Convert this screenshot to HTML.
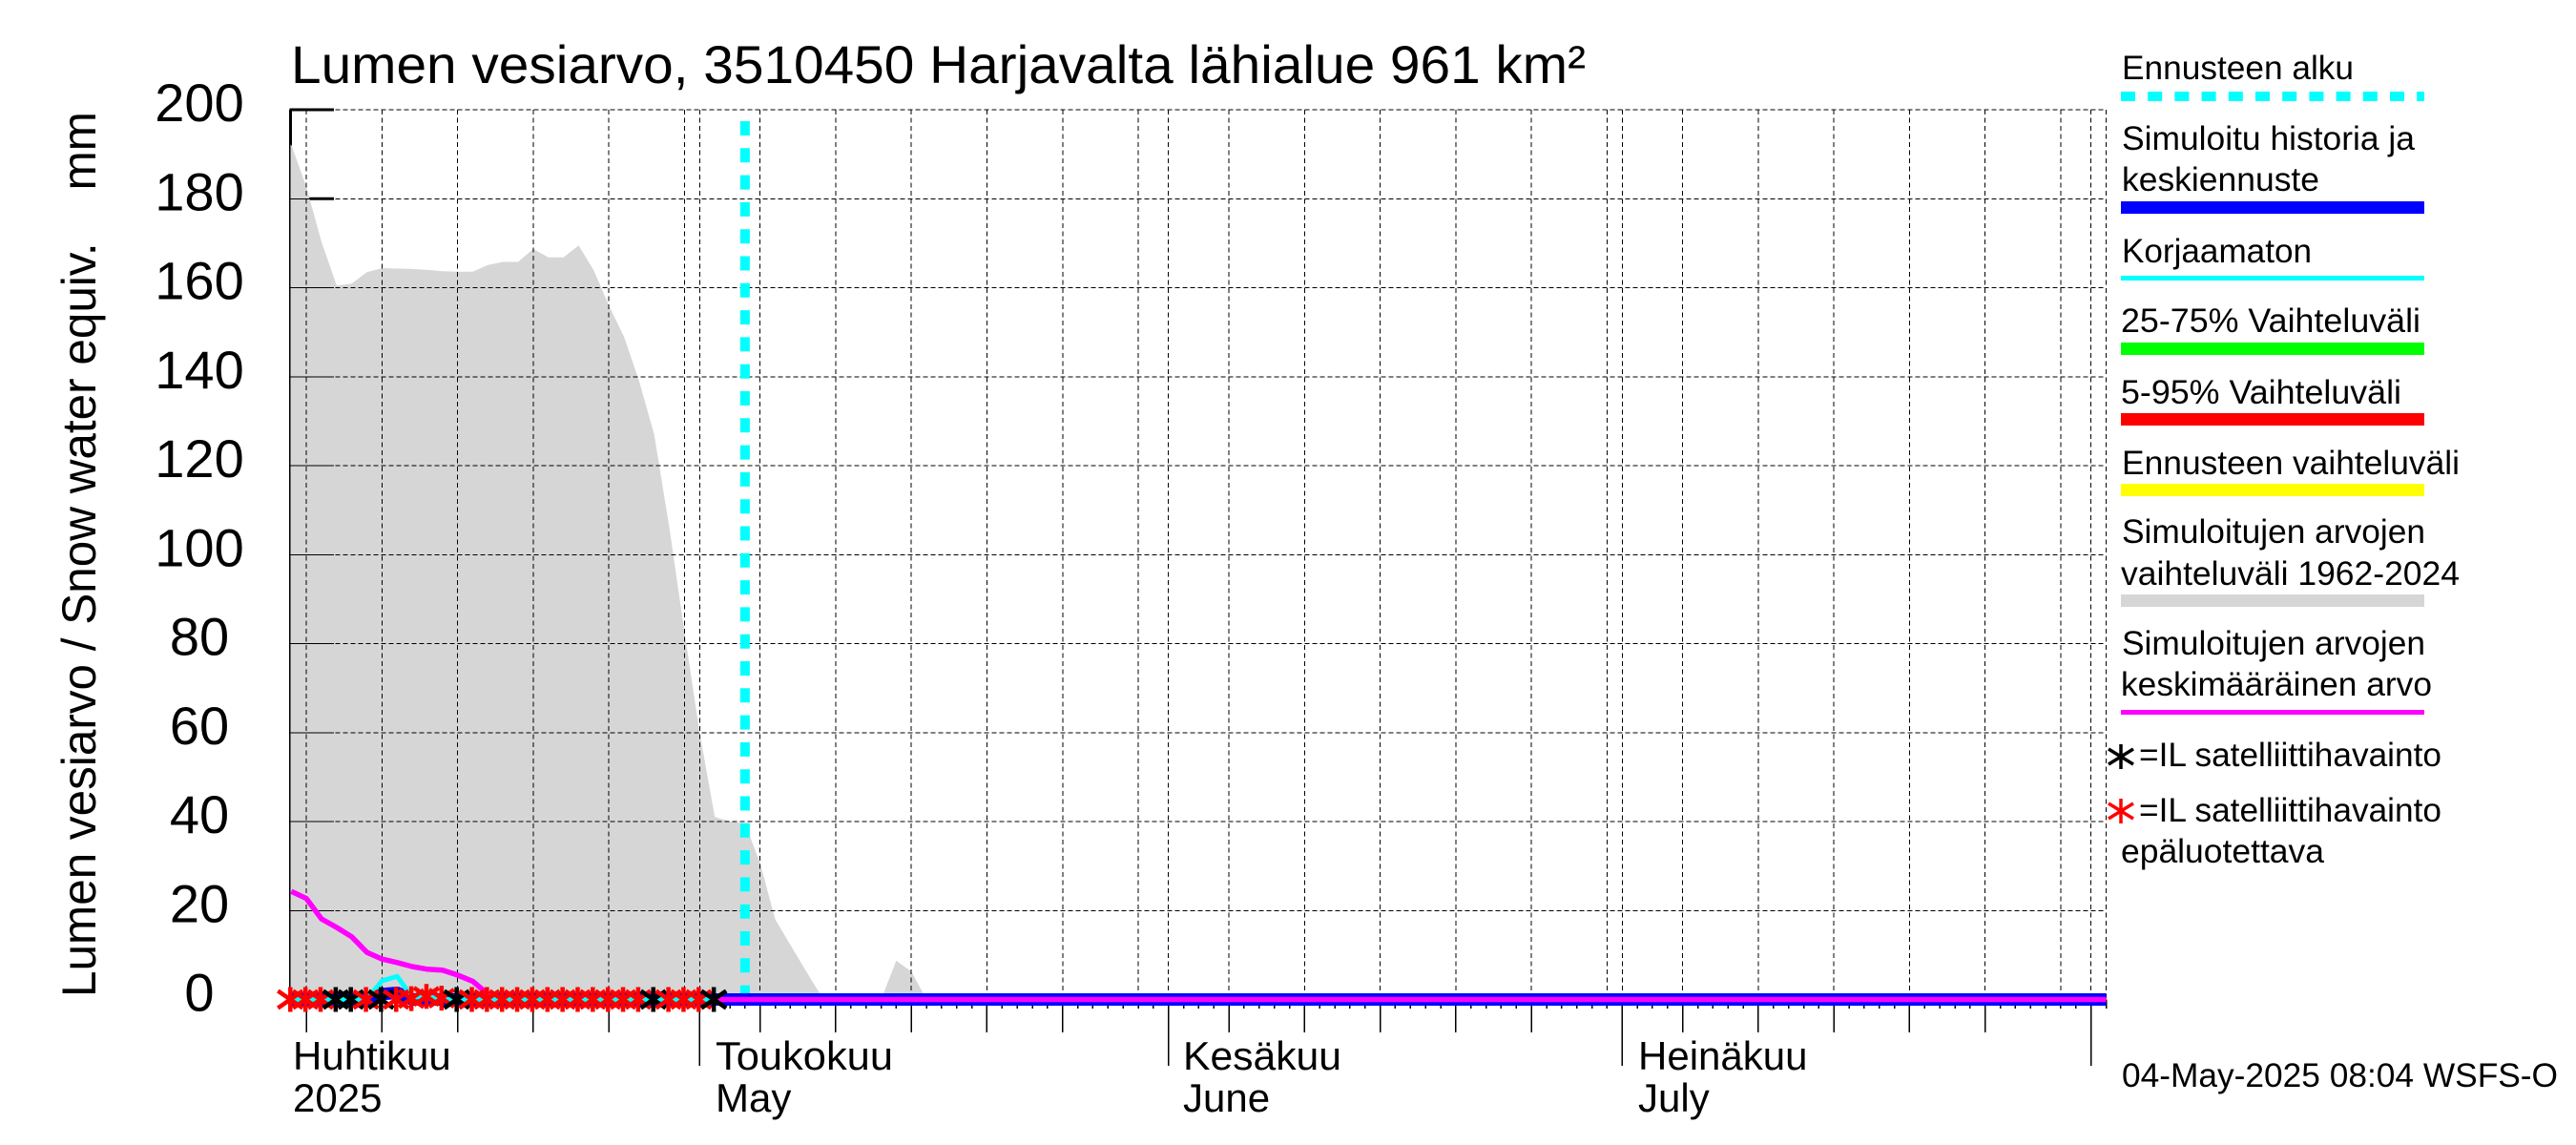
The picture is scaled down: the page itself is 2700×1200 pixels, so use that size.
<!DOCTYPE html>
<html lang="fi">
<head>
<meta charset="utf-8">
<title>Lumen vesiarvo, 3510450 Harjavalta lähialue 961 km²</title>
<style>
html,body{margin:0;padding:0;background:#fff;width:2700px;height:1200px;overflow:hidden}
svg{display:block}
text{font-family:"Liberation Sans",Arial,sans-serif;fill:#000;white-space:pre}
.leg{font-size:35px}
.mon{font-size:42px}
.ytick{font-size:56px;text-anchor:middle}
</style>
</head>
<body>
<svg id="chart" xmlns="http://www.w3.org/2000/svg" width="2700" height="1200" viewBox="0 0 2700 1200">
  <rect x="0" y="0" width="2700" height="1200" fill="#ffffff"/>
  <g id="under"></g>
  <g id="plot"></g>

  <text x="305" y="87" font-size="56" textLength="1357" lengthAdjust="spacingAndGlyphs">Lumen vesiarvo, 3510450 Harjavalta lähialue 961 km²</text>
  <text transform="translate(100,1045) rotate(-90)" font-size="50" textLength="928" lengthAdjust="spacingAndGlyphs">Lumen vesiarvo / Snow water equiv.    mm</text>

  <g>
    <text class="mon" x="307" y="1121">Huhtikuu</text>
    <text class="mon" x="307" y="1165">2025</text>
    <text class="mon" x="750" y="1121" textLength="186" lengthAdjust="spacingAndGlyphs">Toukokuu</text>
    <text class="mon" x="750" y="1165">May</text>
    <text class="mon" x="1240" y="1121" textLength="166" lengthAdjust="spacingAndGlyphs">Kesäkuu</text>
    <text class="mon" x="1240" y="1165">June</text>
    <text class="mon" x="1717" y="1121">Heinäkuu</text>
    <text class="mon" x="1717" y="1165">July</text>
  </g>

  <g>
    <text class="leg" x="2224" y="83" textLength="243" lengthAdjust="spacingAndGlyphs">Ennusteen alku</text>
    <line x1="2223" x2="2541" y1="101" y2="101" stroke="#00ffff" stroke-width="10" stroke-dasharray="15 13.2"/>
    <text class="leg" x="2224" y="157" textLength="307" lengthAdjust="spacingAndGlyphs">Simuloitu historia ja</text>
    <text class="leg" x="2224" y="200" textLength="207" lengthAdjust="spacingAndGlyphs">keskiennuste</text>
    <rect x="2223" y="211" width="318" height="13" fill="#0000ff"/>
    <text class="leg" x="2224" y="275" textLength="199" lengthAdjust="spacingAndGlyphs">Korjaamaton</text>
    <rect x="2223" y="289" width="318" height="5" fill="#00ffff"/>
    <text class="leg" x="2223" y="348" textLength="314" lengthAdjust="spacingAndGlyphs">25-75% Vaihteluväli</text>
    <rect x="2223" y="359" width="318" height="13" fill="#00ff00"/>
    <text class="leg" x="2223" y="423" textLength="294" lengthAdjust="spacingAndGlyphs">5-95% Vaihteluväli</text>
    <rect x="2223" y="433" width="318" height="13" fill="#ff0000"/>
    <text class="leg" x="2224" y="497" textLength="354" lengthAdjust="spacingAndGlyphs">Ennusteen vaihteluväli</text>
    <rect x="2223" y="507" width="318" height="13" fill="#ffff00"/>
    <text class="leg" x="2224" y="569" textLength="318" lengthAdjust="spacingAndGlyphs">Simuloitujen arvojen</text>
    <text class="leg" x="2223" y="613" textLength="355" lengthAdjust="spacingAndGlyphs">vaihteluväli 1962-2024</text>
    <rect x="2223" y="623" width="318" height="13" fill="#d6d6d6"/>
    <text class="leg" x="2224" y="686" textLength="318" lengthAdjust="spacingAndGlyphs">Simuloitujen arvojen</text>
    <text class="leg" x="2223" y="729" textLength="326" lengthAdjust="spacingAndGlyphs">keskimääräinen arvo</text>
    <rect x="2223" y="744" width="318" height="5" fill="#ff00ff"/>
    <g stroke="#000" stroke-width="3.5" fill="none">
      <path d="M2223 780V806M2210 785L2236 801M2236 785L2210 801"/>
    </g>
    <text class="leg" x="2242" y="803" textLength="317" lengthAdjust="spacingAndGlyphs">=IL satelliittihavainto</text>
    <g stroke="#ff0000" stroke-width="3.5" fill="none">
      <path d="M2223 837V863M2210 842L2236 858M2236 842L2210 858"/>
    </g>
    <text class="leg" x="2242" y="861" textLength="317" lengthAdjust="spacingAndGlyphs">=IL satelliittihavainto</text>
    <text class="leg" x="2223" y="904" textLength="213" lengthAdjust="spacingAndGlyphs">epäluotettava</text>
  </g>

  <text x="2224" y="1139" font-size="35" textLength="457" lengthAdjust="spacingAndGlyphs">04-May-2025 08:04 WSFS-O</text>
</svg>

<script>
// Day index 0 = 4 April 2025; one value per day.
const yTickValues = [0, 20, 40, 60, 80, 100, 120, 140, 160, 180, 200];
const dayTicks = [0,1,2,3,4,5,6,7,8,9,10,11,12,13,14,15,16,17,18,19,20,21,22,23,24,25,26,27,28,29,30,31,32,33,34,35,36,37,38,39,40,41,42,43,44,45,46,47,48,49,50,51,52,53,54,55,56,57,58,59,60,61,62,63,64,65,66,67,68,69,70,71,72,73,74,75,76,77,78,79,80,81,82,83,84,85,86,87,88,89,90,91,92,93,94,95,96,97,98,99,100,101,102,103,104,105,106,107,108,109,110,111,112,113,114,115,116,117,118,119,120];
const gridDays = [1,6,11,16,21,26,27,31,36,41,46,51,56,58,62,67,72,77,82,87,88,92,97,102,107,112,117,119];
const fiveDayTicks = [1,6,11,16,21,31,36,41,46,51,62,67,72,77,82,92,97,102,107,112];
const monthTicks = [27,58,88,119];
const forecastStartDay = [30];
const simMax = [192.1,182.6,170.3,160.5,160.9,163.5,164.4,164.3,164.2,164.0,163.7,163.6,163.6,165.1,165.8,165.8,168.7,166.8,166.8,169.5,163.9,156.0,149,139,127,106,82.5,60,41,40,39.6,30.6,18,12.3,6.6,1,0,0,0,0,8.7,6.3,0,0,0,0,0,0,0,0,0,0,0,0,0,0,0,0,0,0,0,0,0,0,0,0,0,0,0,0,0,0,0,0,0,0,0,0,0,0,0,0,0,0,0,0,0,0,0,0,0,0,0,0,0,0,0,0,0,0,0,0,0,0,0,0,0,0,0,0,0,0,0,0,0,0,0,0,0,0,0];
const simMean = [24.3,22.7,18.1,16.2,14.1,10.6,9.1,8.3,7.4,6.8,6.6,5.5,4.1,1.2,0,0,0,0,0,0,0,0,0,0,0,0,0,0,0,0,0,0,0,0,0,0,0,0,0,0,0,0,0,0,0,0,0,0,0,0,0,0,0,0,0,0,0,0,0,0,0,0,0,0,0,0,0,0,0,0,0,0,0,0,0,0,0,0,0,0,0,0,0,0,0,0,0,0,0,0,0,0,0,0,0,0,0,0,0,0,0,0,0,0,0,0,0,0,0,0,0,0,0,0,0,0,0,0,0,0,0];
const historyForecast = [0,0,0,0,0,0,1.2,1.5,0,0,0,0,0,0,0,0,0,0,0,0,0,0,0,0,0,0,0,0,0,0,0,0,0,0,0,0,0,0,0,0,0,0,0,0,0,0,0,0,0,0,0,0,0,0,0,0,0,0,0,0,0,0,0,0,0,0,0,0,0,0,0,0,0,0,0,0,0,0,0,0,0,0,0,0,0,0,0,0,0,0,0,0,0,0,0,0,0,0,0,0,0,0,0,0,0,0,0,0,0,0,0,0,0,0,0,0,0,0,0,0,0];
const uncorrected = [0,0,0,0,0,0,4.2,5.2,0.5,0.7,0,0,0,0,0,0,0,0,0,0,0,0,0,0,0,0,0,0,0];
const satelliteValues = [0,0,0,0,0,0,0,0,0.2,0.7,0.3,0,0,0,0,0,0,0,0,0,0,0,0,0,0,0,0,0,0];
const reliableSatelliteDays = [3,4,6,11,24,28];

const svgNS = 'http://www.w3.org/2000/svg';
const plotLeft = 303.5, plotRight = 2207.5, plotTop = 115;
function xOf(d){ return 305.3 + 15.852 * d; }
function yOf(v){ return 1047.5 - 4.6625 * v; }
function mk(tag, attrs, parent){
  const el = document.createElementNS(svgNS, tag);
  for (const k in attrs) el.setAttribute(k, attrs[k]);
  parent.appendChild(el);
  return el;
}
function pointsOf(vals){
  return vals.map(function(v, i){ return xOf(i).toFixed(1) + ',' + yOf(v).toFixed(1); }).join(' ');
}
const under = document.getElementById('under');
const plot = document.getElementById('plot');
const base = yOf(0);

// thick parts of the axis, later partly covered by the grey area
const axisThick = mk('line', {x1:plotLeft+1, x2:plotLeft+1, y1:plotTop, y2:base, stroke:'#000', 'stroke-width':3}, under);


yTickValues.forEach(function(v){
  const t = mk('line', {x1:plotLeft, x2:350, y1:yOf(v), y2:yOf(v), stroke:'#000', 'stroke-width':3}, under);
  
  
});

// simulated range area
const areaPts = plotLeft + ',' + base + ' ' + plotLeft + ',' + yOf(simMax[0]).toFixed(1) + ' ' + pointsOf(simMax) + ' ' + xOf(simMax.length-1).toFixed(1) + ',' + base;
const area = mk('polygon', {points:areaPts, fill:'#d6d6d6', stroke:'none'}, plot);



// grid
yTickValues.forEach(function(v){
  if (v === 0) return;
  const g = mk('line', {x1:plotLeft, x2:plotRight, y1:yOf(v), y2:yOf(v), stroke:'#000', 'stroke-width':1, 'stroke-dasharray':'5 3', 'shape-rendering':'crispEdges'}, plot);
  
  
  const s = mk('line', {x1:plotLeft, x2:350, y1:yOf(v), y2:yOf(v), stroke:'#000', 'stroke-width':1, 'shape-rendering':'crispEdges'}, plot);
  
  
});
gridDays.forEach(function(d){
  const g = mk('line', {x1:xOf(d), x2:xOf(d), y1:plotTop, y2:base, stroke:'#000', 'stroke-width':1, 'stroke-dasharray':'5 3.5', 'shape-rendering':'crispEdges'}, plot);
  
  
});
const rightEdge = mk('line', {x1:plotRight, x2:plotRight, y1:plotTop, y2:base, stroke:'#000', 'stroke-width':1, 'stroke-dasharray':'5 3.5', 'shape-rendering':'crispEdges'}, plot);


const axisThin = mk('line', {x1:plotLeft, x2:plotLeft, y1:plotTop, y2:base, stroke:'#000', 'stroke-width':1.5, 'shape-rendering':'crispEdges'}, plot);



// x ticks
dayTicks.forEach(function(d){
  const t = mk('line', {x1:xOf(d), x2:xOf(d), y1:base, y2:1057, stroke:'#000', 'stroke-width':1.5, 'shape-rendering':'crispEdges'}, plot);
  
  
});
fiveDayTicks.forEach(function(d){
  const t = mk('line', {x1:xOf(d), x2:xOf(d), y1:base, y2:1082, stroke:'#000', 'stroke-width':1.5, 'shape-rendering':'crispEdges'}, plot);
  
  
});
monthTicks.forEach(function(d){
  const t = mk('line', {x1:xOf(d), x2:xOf(d), y1:base, y2:1117, stroke:'#000', 'stroke-width':1.5, 'shape-rendering':'crispEdges'}, plot);
  
  
});

// forecast start
const fs = mk('line', {x1:xOf(forecastStartDay[0]), x2:xOf(forecastStartDay[0]), y1:127, y2:base, stroke:'#00ffff', 'stroke-width':10, 'stroke-dasharray':'15 13.3'}, plot);



// series
const hist = mk('polyline', {points:pointsOf(historyForecast), fill:'none', stroke:'#0000ff', 'stroke-width':13, 'stroke-linejoin':'round'}, plot);


const mean = mk('polyline', {points:pointsOf(simMean), fill:'none', stroke:'#ff00ff', 'stroke-width':5.5, 'stroke-linejoin':'round'}, plot);


const unc = mk('polyline', {points:pointsOf(uncorrected), fill:'none', stroke:'#00ffff', 'stroke-width':5, 'stroke-linejoin':'round'}, plot);



// satellite stars
satelliteValues.forEach(function(v, d){
  const cx = xOf(d) - 1, cy = yOf(v);
  const reliable = reliableSatelliteDays.indexOf(d) >= 0;
  const s = mk('path', {
    d:'M'+cx+' '+(cy-13)+'V'+(cy+13)+'M'+(cx-13)+' '+(cy-9)+'L'+(cx+13)+' '+(cy+9)+'M'+(cx+13)+' '+(cy-9)+'L'+(cx-13)+' '+(cy+9),
    fill:'none', stroke: reliable ? '#000000' : '#ff0000', 'stroke-width':4.5
  }, plot);
  
  
});

// y tick labels
yTickValues.forEach(function(v){
  const t = mk('text', {class:'ytick', x:209, y:(yOf(v)+12).toFixed(1)}, plot);
  t.textContent = String(v);
  
  
});
</script>
</body>
</html>
